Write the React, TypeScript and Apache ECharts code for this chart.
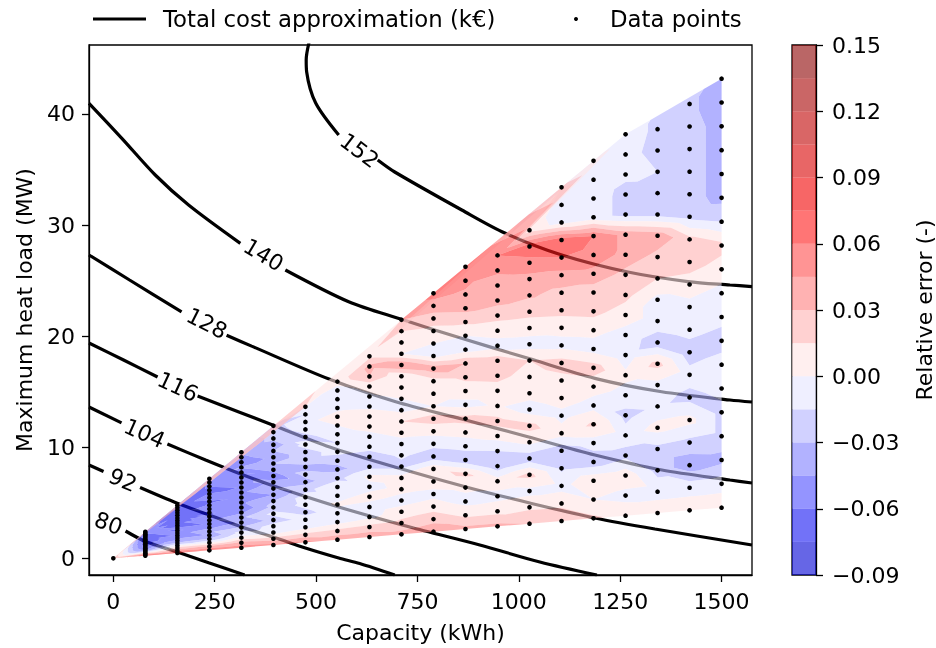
import React, { useEffect, useRef } from "react";
import * as echarts from "echarts";

const FONT = "DejaVu Sans";

// ---------- data ----------
// capacity of each column of simulated points (kWh)
const capacities = [0, 78.9, 157.9, 236.8, 315.8, 394.7, 473.7, 552.6, 631.6, 710.5, 789.5, 868.4, 947.4, 1026.3, 1105.3, 1184.2, 1263.2, 1342.1, 1421.1, 1500];
// maximum heat load per unit of capacity (MW/kWh) of the simulated rows
const loadPerCapacity = [0.00304, 0.00447, 0.0059, 0.00733, 0.00876, 0.01019, 0.01162, 0.01305, 0.01448, 0.01591, 0.01734, 0.01877, 0.0202, 0.02163, 0.02306, 0.02449, 0.02592, 0.02735, 0.02878, 0.03021];
// number of simulated rows in each column
const rowsPerColumn = [1, 20, 20, 20, 20, 20, 19, 19, 19, 20, 20, 20, 19, 19, 20, 20, 20, 19, 19, 19];
// relative error at every data point (column by column, bottom to top)
const relativeError = [
  [0.03],
  [0.07, 0.05, 0.02, -0.01, -0.035, -0.05, -0.058, -0.063, -0.068, -0.068, -0.072, -0.068, -0.072, -0.072, -0.068, -0.072, -0.068, -0.063, -0.058, -0.053],
  [0.07, 0.045, 0.02, 0.0, -0.028, -0.043, -0.048, -0.058, -0.053, -0.063, -0.058, -0.068, -0.063, -0.073, -0.068, -0.063, -0.073, -0.068, -0.078, -0.073],
  [0.06, 0.035, 0.0, -0.028, -0.043, -0.033, -0.048, -0.058, -0.048, -0.058, -0.063, -0.048, -0.058, -0.063, -0.048, -0.058, -0.073, -0.058, -0.058, -0.048],
  [0.055, 0.035, 0.005, -0.01, -0.028, -0.043, -0.033, -0.048, -0.058, -0.048, -0.058, -0.048, -0.058, -0.048, -0.048, -0.058, -0.043, -0.058, -0.048, -0.043],
  [0.05, 0.02, -0.005, -0.008, -0.025, -0.01, -0.025, -0.03, -0.045, -0.03, -0.04, -0.055, -0.04, -0.03, -0.04, -0.03, -0.04, -0.025, -0.025, -0.02],
  [0.05, 0.02, -0.005, -0.008, -0.02, -0.01, -0.008, -0.02, -0.035, -0.025, -0.035, -0.02, -0.02, -0.01, -0.02, -0.008, -0.005, -0.015, -0.005],
  [0.04, 0.02, -0.005, -0.006, 0.002, -0.006, -0.002, -0.02, -0.035, -0.025, -0.01, -0.015, -0.006, 0.0, 0.008, -0.005, -0.004, -0.006, 0.005],
  [0.04, 0.02, -0.004, -0.006, 0.005, -0.005, 0.004, -0.02, -0.025, -0.008, -0.005, 0.005, 0.015, -0.005, -0.003, 0.005, 0.03, 0.035, 0.01],
  [0.035, 0.02, 0.006, -0.006, 0.004, 0.006, -0.02, -0.012, -0.006, 0.005, 0.015, -0.004, 0.0, 0.012, 0.002, 0.045, 0.0, 0.004, 0.015, 0.03],
  [0.04, 0.025, 0.008, -0.005, 0.008, 0.012, -0.025, -0.01, 0.005, 0.022, 0.0, 0.005, 0.008, 0.04, -0.004, 0.0, 0.01, 0.022, 0.04, 0.05],
  [0.035, 0.012, -0.005, 0.003, 0.018, -0.025, -0.01, 0.006, 0.02, -0.005, 0.008, 0.018, 0.03, -0.006, 0.0, 0.018, 0.035, 0.042, 0.05, 0.055],
  [0.035, 0.01, -0.005, 0.008, -0.025, -0.015, 0.006, 0.02, 0.002, 0.008, 0.02, 0.025, -0.006, 0.006, 0.02, 0.035, 0.03, 0.05, 0.06],
  [0.03, 0.012, -0.005, 0.02, -0.025, 0.004, 0.02, -0.008, 0.006, 0.008, 0.015, -0.006, 0.006, 0.02, 0.032, 0.04, 0.055, 0.07, 0.008],
  [0.03, 0.01, -0.005, -0.018, -0.025, 0.006, -0.005, 0.008, 0.01, 0.022, -0.005, 0.005, 0.02, 0.026, 0.04, 0.06, 0.07, -0.005, -0.008, 0.0],
  [0.018, 0.0, 0.012, -0.025, -0.008, 0.018, -0.006, 0.006, 0.022, -0.006, 0.004, 0.02, 0.022, 0.04, 0.055, 0.06, -0.008, -0.008, -0.006, -0.005],
  [0.01, -0.005, 0.01, -0.02, -0.008, -0.02, -0.005, 0.003, -0.008, -0.005, 0.006, 0.02, 0.025, 0.04, 0.04, -0.02, -0.02, -0.012, -0.01, -0.008],
  [0.008, -0.005, -0.02, -0.02, 0.006, -0.012, -0.005, 0.02, -0.025, -0.005, -0.005, 0.015, 0.025, 0.04, -0.02, -0.02, -0.015, -0.02, -0.018],
  [0.008, -0.005, -0.04, -0.02, 0.005, -0.02, -0.008, -0.025, -0.008, -0.005, 0.008, 0.022, 0.02, -0.02, -0.025, -0.025, -0.025, -0.025, -0.028],
  [0.008, -0.005, -0.035, -0.02, -0.02, -0.01, -0.005, -0.025, -0.008, -0.005, 0.008, 0.02, -0.015, -0.035, -0.035, -0.035, -0.035, -0.035, -0.035],
];

// filled-contour levels of the relative error and their colours
const errorLevels = [-0.09, -0.075, -0.06, -0.045, -0.03, -0.015, 0, 0.015, 0.03, 0.045, 0.06, 0.075, 0.09, 0.105, 0.12, 0.135, 0.15];
const errorColors = ["#0000d6", "#1414f4", "#4c4cff", "#7f7fff", "#b2b2ff", "#e5e5ff", "#ffe5e5", "#ffb2b2", "#ff7f7f", "#ff4c4c", "#ff1919", "#f20000", "#d90000", "#bf0000", "#a60000", "#8c0000"];
const colorbarTicks = [-0.09, -0.06, -0.03, 0, 0.03, 0.06, 0.09, 0.12, 0.15];

const capacityTicks = [0, 250, 500, 750, 1000, 1250, 1500];
const heatLoadTicks = [0, 10, 20, 30, 40];

// total cost approximation iso-lines (k€): each one split where its label sits
const costLevels = ["80", "92", "104", "116", "128", "140", "152"];
const costCurves: number[][][][] = [
  [[[30.1, 2.46], [79.5, 1.51], [156, 0.59], [235, -0.4], [323.8, -1.5]]],
  [[[-60, 8.4], [-24.2, 7.81]], [[65.9, 6.37], [156, 4.98], [236.2, 3.9], [316.4, 2.82], [394.1, 1.92], [473.6, 0.93], [555.8, 0.03], [607.6, -0.47], [694, -1.5]]],
  [[[-60, 13.62], [20.2, 12.19]], [[133.3, 10.29], [227.5, 8.85], [313.9, 7.59], [402.8, 6.42], [555.8, 4.62], [731, 2.82], [903.7, 1.2], [1051.8, -0.33], [1192.5, -1.5]]],
  [[[-60, 19.38], [25.2, 17.85], [109.1, 16.32]], [[207.8, 14.61], [392.9, 12.0], [533.6, 10.02], [694, 8.22], [879, 6.33], [1027, 4.98], [1187.5, 3.63], [1335.6, 2.64], [1575, 1.2]]],
  [[[-60, 27.3], [40, 25.05], [168.3, 22.19]], [[279.3, 20.07], [341.1, 19.1], [533.6, 16.11], [696.4, 14.09], [859.3, 12.54], [1022.2, 10.94], [1187.5, 9.3], [1352.9, 7.95], [1520.7, 7.05], [1575, 6.78]]],
  [[[-60, 40.95], [21, 37.8], [103.4, 34.5], [185.6, 31.8], [313.2, 28.35]], [[424.2, 25.95], [580.5, 23.09], [710.5, 21.51], [858.6, 19.8], [1022.9, 18.0], [1187.5, 16.2], [1352.2, 14.99], [1520.7, 14.25], [1575, 14.07]]],
  [[[483, 46.5], [475.6, 44.85], [476.8, 43.77], [499, 40.98], [555.8, 38.1]], [[652, 35.85], [694, 34.77], [859.3, 31.35], [965.4, 29.28], [1106, 27.3], [1269, 25.77], [1417, 24.91], [1520.7, 24.6], [1575, 24.46]]],
];
// label anchor [capacity, heat load, angle] of every iso-line
const costLabelAnchors = [[-11.8, 3.15, -20], [23.4, 7.05, -23], [77, 11.25, -24], [159.2, 15.44, -25], [230.7, 21.15, -27], [370.7, 27.3, -31], [607, 36.7, -37]];

// ---------- geometry helpers ----------
type P = { x: number; y: number; v: number };

const BandShape = (echarts.graphic as any).extendShape({
  type: "errorBand",
  shape: { polys: [] as number[][] },
  buildPath(ctx: any, shape: any) {
    const polys = shape.polys || [];
    for (const p of polys) {
      if (p.length < 6) continue;
      ctx.moveTo(p[0], p[1]);
      for (let i = 2; i < p.length; i += 2) ctx.lineTo(p[i], p[i + 1]);
      ctx.closePath();
    }
  },
});
echarts.graphic.registerShape("errorBand", BandShape);

function buildColumns(): P[][] {
  return capacities.map((c, k) => {
    const pts: P[] = [];
    for (let j = 0; j < rowsPerColumn[k]; j++) pts.push({ x: c, y: c * loadPerCapacity[j], v: relativeError[k][j] });
    return pts;
  });
}

function triangulate(columns: P[][]): P[][] {
  const tris: P[][] = [];
  for (let k = 0; k < columns.length - 1; k++) {
    const A = columns[k], B = columns[k + 1];
    let i = 0, j = 0;
    while (i < A.length - 1 || j < B.length - 1) {
      if (i === A.length - 1) { tris.push([A[i], B[j], B[j + 1]]); j++; }
      else if (j === B.length - 1) { tris.push([A[i], A[i + 1], B[j]]); i++; }
      else if (A[i].y + A[i + 1].y <= B[j].y + B[j + 1].y) { tris.push([A[i], A[i + 1], B[j]]); i++; }
      else { tris.push([A[i], B[j], B[j + 1]]); j++; }
    }
  }
  // fill the concave pockets under the upper convex hull
  const tops = columns.map((c) => c[c.length - 1]);
  const hull: number[] = [];
  for (let k = 0; k < tops.length; k++) {
    while (hull.length >= 2) {
      const o = tops[hull[hull.length - 2]], a = tops[hull[hull.length - 1]], b = tops[k];
      const cr = (a.x - o.x) * (b.y - o.y) - (a.y - o.y) * (b.x - o.x);
      if (cr >= -1e-6) hull.pop(); else break;
    }
    hull.push(k);
  }
  for (let h = 0; h < hull.length - 1; h++) {
    const a = hull[h], b = hull[h + 1];
    if (b - a < 2) continue;
    const TA = tops[a], TB = tops[b];
    let s = b - 1;
    for (let t = a + 1; t < b - 1; t++) {
      const mid = (tops[t].x + tops[t + 1].x) / 2;
      if (mid - TA.x <= TB.x - mid) tris.push([TA, tops[t], tops[t + 1]]);
      else { if (s === b - 1 && t < s) s = t; tris.push([TB, tops[t], tops[t + 1]]); }
    }
    tris.push([TA, tops[s], TB]);
  }
  return tris;
}

function clip(poly: P[], level: number, keepAbove: boolean): P[] {
  const out: P[] = [];
  const n = poly.length;
  for (let i = 0; i < n; i++) {
    const cur = poly[i], nxt = poly[(i + 1) % n];
    const cIn = keepAbove ? cur.v >= level : cur.v <= level;
    const nIn = keepAbove ? nxt.v >= level : nxt.v <= level;
    if (cIn) out.push(cur);
    if (cIn !== nIn) {
      const t = (level - cur.v) / (nxt.v - cur.v);
      out.push({ x: cur.x + t * (nxt.x - cur.x), y: cur.y + t * (nxt.y - cur.y), v: level });
    }
  }
  return out;
}

function buildBands(tris: P[][]): P[][][] {
  const nb = errorLevels.length - 1;
  const bands: P[][][] = Array.from({ length: nb }, () => []);
  for (const t0 of tris) {
    let [a, b, c] = t0;
    const area = (b.x - a.x) * (c.y - a.y) - (b.y - a.y) * (c.x - a.x);
    if (Math.abs(area) < 1e-9) continue;
    if (area < 0) { const tmp = b; b = c; c = tmp; }
    const tri = [a, b, c];
    for (let i = 0; i < nb; i++) {
      let poly = tri;
      if (i > 0) poly = clip(poly, errorLevels[i], true);
      if (poly.length >= 3 && i < nb - 1) poly = clip(poly, errorLevels[i + 1], false);
      if (poly.length >= 3) bands[i].push(poly);
    }
  }
  return bands;
}

function rgba(hex: string, a: number) {
  const r = parseInt(hex.slice(1, 3), 16), g = parseInt(hex.slice(3, 5), 16), b = parseInt(hex.slice(5, 7), 16);
  return `rgba(${r},${g},${b},${a})`;
}

function fmtErr(v: number) {
  const r = Math.round(v * 100) / 100;
  return (r < 0 ? "\u2212" : "") + Math.abs(r).toFixed(2);
}

export default function App() {
  const ref = useRef<HTMLDivElement>(null);
  useEffect(() => {
    if (!ref.current) return;
    const chart = echarts.init(ref.current, undefined, { renderer: "svg" });
    const columns = buildColumns();
    const bands = buildBands(triangulate(columns));
    const points: number[][] = [];
    columns.forEach((col) => col.forEach((p) => points.push([p.x, p.y])));

    const lineSeries: any[] = [];
    costCurves.forEach((segs) =>
      segs.forEach((seg) =>
        lineSeries.push({
          type: "line",
          name: "Total cost approximation (k\u20ac)",
          xAxisIndex: 0,
          yAxisIndex: 0,
          data: seg,
          smooth: 0.3,
          symbol: "none",
          lineStyle: { color: "#000", width: 3.2, opacity: 1 },
          z: 1,
          silent: true,
        })
      )
    );

    const axisCommon = {
      splitLine: { show: false },
      axisLine: { show: true, onZero: false, lineStyle: { color: "#000", width: 1.3 } },
    };

    const option: any = {
      animation: false,
      textStyle: { fontFamily: FONT },
      grid: [
        { left: 89, top: 45, width: 663, height: 530, show: true, borderColor: "#000", borderWidth: 1.3, backgroundColor: "transparent" },
        { left: 792, top: 45, width: 26, height: 530, show: true, borderColor: "#000", borderWidth: 1.3, backgroundColor: "transparent" },
      ],
      xAxis: [
        {
          ...axisCommon,
          type: "value",
          gridIndex: 0,
          min: -60,
          max: 1575,
          axisTick: { show: true, length: 7, lineStyle: { color: "#000", width: 1.3 }, customValues: capacityTicks },
          axisLabel: { customValues: capacityTicks, fontSize: 22, color: "#000", margin: 15, fontFamily: FONT, formatter: (v: number) => String(Math.round(v)) },
          name: "Capacity (kWh)",
          nameLocation: "middle",
          nameGap: 46,
          nameTextStyle: { fontSize: 22, color: "#000", fontFamily: FONT },
        },
        { type: "value", gridIndex: 1, min: 0, max: 1, show: false },
      ],
      yAxis: [
        {
          ...axisCommon,
          type: "value",
          gridIndex: 0,
          min: -1.5,
          max: 46.2,
          axisTick: { show: true, length: 7, lineStyle: { color: "#000", width: 1.3 }, customValues: heatLoadTicks },
          axisLabel: { customValues: heatLoadTicks, fontSize: 22, color: "#000", margin: 14, fontFamily: FONT, formatter: (v: number) => String(Math.round(v)) },
          name: "Maximum heat load (MW)",
          nameLocation: "middle",
          nameRotate: 90,
          nameGap: 54,
          nameTextStyle: { fontSize: 22, color: "#000", fontFamily: FONT },
        },
        {
          ...axisCommon,
          type: "value",
          gridIndex: 1,
          position: "right",
          min: -0.09,
          max: 0.15,
          interval: 0.03,
          axisTick: { show: true, length: 7, lineStyle: { color: "#000", width: 1.3 }, customValues: colorbarTicks },
          axisLabel: { customValues: colorbarTicks, fontSize: 22, color: "#000", margin: 16, fontFamily: FONT, formatter: (v: number) => fmtErr(v) },
          name: "Relative error (-)",
          nameLocation: "middle",
          nameRotate: 90,
          nameGap: 97,
          nameTextStyle: { fontSize: 22, color: "#000", fontFamily: FONT },
        },
      ],
      series: [
        ...lineSeries,
        {
          type: "custom",
          xAxisIndex: 0,
          yAxisIndex: 0,
          data: [[0, 0]],
          silent: true,
          z: 2,
          renderItem: (_params: any, api: any) => ({
            type: "group",
            children: bands.map((polys, i) => ({
              type: "errorBand",
              shape: {
                polys: polys.map((poly) => {
                  const arr: number[] = [];
                  poly.forEach((p) => {
                    const c = api.coord([p.x, p.y]);
                    arr.push(c[0], c[1]);
                  });
                  return arr;
                }),
              },
              style: { fill: rgba(errorColors[i], 0.6), stroke: null },
            })),
          }),
        },
        {
          type: "scatter",
          name: "Data points",
          xAxisIndex: 0,
          yAxisIndex: 0,
          data: points,
          symbolSize: 4.6,
          itemStyle: { color: "#000", opacity: 1 },
          z: 3,
          silent: true,
        },
        {
          type: "scatter",
          xAxisIndex: 0,
          yAxisIndex: 0,
          symbolSize: 0,
          itemStyle: { opacity: 1 },
          data: costLabelAnchors.map((a, i) => ({ value: [a[0], a[1]], name: costLevels[i], label: { rotate: a[2] } })),
          label: { show: true, position: "inside", formatter: "{b}", fontSize: 22, color: "#000", opacity: 1, textBorderWidth: 0, fontFamily: FONT },
          z: 4,
          silent: true,
        },
        {
          type: "custom",
          xAxisIndex: 1,
          yAxisIndex: 1,
          silent: true,
          data: errorColors.map((_, i) => [errorLevels[i], errorLevels[i + 1], i]),
          renderItem: (_params: any, api: any) => {
            const lo = api.value(0), hi = api.value(1), idx = api.value(2);
            const p0 = api.coord([0, lo]);
            const p1 = api.coord([1, hi]);
            return {
              type: "rect",
              shape: { x: p0[0], y: p1[1], width: p1[0] - p0[0], height: p0[1] - p1[1] },
              style: { fill: rgba(errorColors[idx], 0.6) },
            };
          },
        },
      ],
      graphic: [
        { type: "line", shape: { x1: 93, y1: 19, x2: 146, y2: 19 }, style: { stroke: "#000", lineWidth: 3.2 } },
        { type: "text", x: 163, y: 19, style: { text: "Total cost approximation (k\u20ac)", fontSize: 22.8, fontFamily: FONT, fill: "#000", verticalAlign: "middle" } },
        { type: "circle", shape: { cx: 576, cy: 19, r: 2 }, style: { fill: "#000" } },
        { type: "text", x: 610, y: 19, style: { text: "Data points", fontSize: 22.8, fontFamily: FONT, fill: "#000", verticalAlign: "middle" } },
      ],
    };
    chart.setOption(option);
    return () => chart.dispose();
  }, []);
  return <div ref={ref} style={{ position: "fixed", left: 0, top: 0, width: 936, height: 648 }} />;
}
